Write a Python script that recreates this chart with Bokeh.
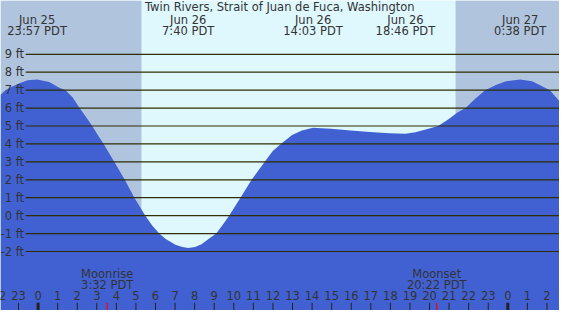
from bokeh.plotting import figure
from bokeh.models import Range1d, BoxAnnotation, ColumnDataSource
from bokeh.core.properties import value
from bokeh.embed import file_html
from bokeh.resources import INLINE

# ---------------- data ----------------
title = "Twin Rivers, Strait of Juan de Fuca, Washington"

# hours relative to Jun 26 00:00 PDT, tide height in feet
tide_hours = [-1.92, -1.67, -1.42, -0.92, -0.53, -0.05, 0.57, 1.06, 1.40, 1.76,
              2.12, 2.45, 2.77, 3.05, 3.35, 3.89, 4.43, 4.92, 5.48, 5.83,
              6.19, 6.52, 7.02, 7.37, 7.67, 8.02, 8.35, 8.71, 9.10, 9.41,
              9.76, 10.34, 10.91, 11.58, 11.99, 12.40, 12.98, 13.48, 14.05, 14.48,
              14.97, 15.97, 16.96, 17.95, 18.77, 19.28, 19.94, 20.44, 20.93, 21.43,
              21.84, 22.32, 22.84, 23.42, 23.91, 24.63, 25.24, 25.70, 26.15, 26.64]
tide_feet = [6.75, 7.00, 7.15, 7.40, 7.55, 7.60, 7.46, 7.15, 7.00, 6.60,
             6.00, 5.50, 5.00, 4.50, 4.00, 3.00, 2.00, 1.00, 0.00, -0.55,
             -1.00, -1.30, -1.62, -1.75, -1.80, -1.75, -1.60, -1.30, -1.00, -0.55,
             0.00, 1.00, 2.00, 3.00, 3.60, 4.00, 4.50, 4.75, 4.90, 4.88,
             4.84, 4.75, 4.67, 4.60, 4.57, 4.65, 4.84, 5.00, 5.35, 5.75,
             6.00, 6.50, 7.00, 7.30, 7.50, 7.60, 7.50, 7.25, 7.00, 6.38]

extreme_hours = [-0.05, 7.667, 14.05, 18.767, 24.633]
extreme_dates = ["Jun 25", "Jun 26", "Jun 26", "Jun 26", "Jun 27"]
extreme_times = ["23:57 PDT", "7:40 PDT", "14:03 PDT", "18:46 PDT", "0:38 PDT"]

level_ft = [-2, -1, 0, 1, 2, 3, 4, 5, 6, 7, 8, 9]
level_labels = ["-2 ft", "-1 ft", "0 ft", "1 ft", "2 ft", "3 ft", "4 ft",
                "5 ft", "6 ft", "7 ft", "8 ft", "9 ft"]

hour_ticks = [-2, -1, 0, 1, 2, 3, 4, 5, 6, 7, 8, 9, 10, 11, 12, 13, 14, 15,
              16, 17, 18, 19, 20, 21, 22, 23, 24, 25, 26]
hour_labels = ["22", "23", "0", "1", "2", "3", "4", "5", "6", "7", "8", "9",
               "10", "11", "12", "13", "14", "15", "16", "17", "18", "19",
               "20", "21", "22", "23", "0", "1", "2"]
midnights = [0, 24]

moon_hours = [3.533, 20.367]
moon_names = ["Moonrise", "Moonset"]
moon_times = ["3:32 PDT", "20:22 PDT"]

sunrise = 5.28
sunset = 21.33

# ---------------- layout / style ----------------
X0, X1 = -1.92, 26.64
Y0, Y1 = -5.29, 12.0
FONT = value("DejaVu Sans")
FS = value("11.5px")
TXT = "#333333"
LINE = "#2E2E00"
NIGHT = "#B0C4DE"
DAY = "#DFF8FE"
TIDE = "#4161D3"

p = figure(width=559, height=310, x_range=Range1d(X0, X1), y_range=Range1d(Y0, Y1),
           output_backend="svg", toolbar_location=None, min_border=0,
           background_fill_color=DAY, border_fill_color=DAY, outline_line_color=None)
p.axis.visible = False
p.grid.visible = False

p.add_layout(BoxAnnotation(right=sunrise, fill_color=NIGHT, fill_alpha=1,
                           line_color=None, level="underlay"))
p.add_layout(BoxAnnotation(left=sunset, fill_color=NIGHT, fill_alpha=1,
                           line_color=None, level="underlay"))

p.varea(x=tide_hours, y1=[Y0] * len(tide_hours), y2=tide_feet, fill_color=TIDE)

# level lines and labels
p.segment(x0=[-0.63] * len(level_ft), x1=[X1] * len(level_ft), y0=level_ft, y1=level_ft,
          line_color=LINE, line_width=1.2)
p.text(x=[-0.72] * len(level_ft), y=level_ft, text=level_labels, text_font=FONT,
       text_font_size=FS, text_color=TXT, text_align="right", text_baseline="middle")

# title & extremes
p.text(x=[12.35], y=[11.62], text=[title], text_font=FONT, text_font_size=FS,
       text_color=TXT, text_align="center", text_baseline="middle")
p.text(x=extreme_hours, y=[10.94] * 5, text=extreme_dates, text_font=FONT,
       text_font_size=FS, text_color=TXT, text_align="center", text_baseline="middle")
p.text(x=extreme_hours, y=[10.32] * 5, text=extreme_times, text_font=FONT,
       text_font_size=FS, text_color=TXT, text_align="center", text_baseline="middle")

# moon events
p.text(x=moon_hours, y=[-3.26] * 2, text=moon_names, text_font=FONT, text_font_size=FS,
       text_color=TXT, text_align="center", text_baseline="middle")
p.text(x=moon_hours, y=[-3.87] * 2, text=moon_times, text_font=FONT, text_font_size=FS,
       text_color=TXT, text_align="center", text_baseline="middle")

# hour ticks
p.text(x=hour_ticks, y=[-4.48] * len(hour_ticks), text=hour_labels, text_font=FONT,
       text_font_size=FS, text_color=TXT, text_align="center", text_baseline="middle")
p.segment(x0=hour_ticks, x1=hour_ticks, y0=[-4.86] * len(hour_ticks),
          y1=[Y0] * len(hour_ticks), line_color="#222222", line_width=1)
p.segment(x0=midnights, x1=midnights, y0=[-4.86] * 2, y1=[Y0] * 2,
          line_color="#222222", line_width=3)
p.segment(x0=moon_hours, x1=moon_hours, y0=[-4.86] * 2, y1=[Y0] * 2,
          line_color="red", line_width=1.2)

open("out.html", "w").write(file_html(p, INLINE))
